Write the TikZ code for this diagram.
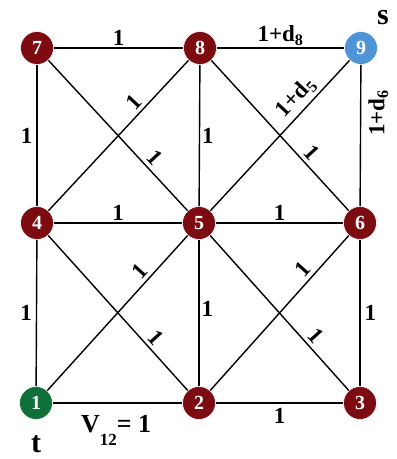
\documentclass[tikz,border=0pt]{standalone}
\usepackage{fontspec}
\setmainfont{Liberation Serif}
\definecolor{vred}{RGB}{125,12,18}
\definecolor{vgreen}{RGB}{16,112,58}
\definecolor{vblue}{RGB}{78,148,214}
\begin{document}
\begin{tikzpicture}[x=1pt,y=-1pt,line width=1.4pt,
  vert/.style={circle,fill=vred,draw=white,line width=0.6pt,minimum size=33pt,inner sep=0pt,text=white,font=\fontsize{20}{20}\selectfont\bfseries},
  lbl/.style={font=\fontsize{23}{23}\selectfont\bfseries,inner sep=2pt},
  dlbl/.style={lbl,sloped,above,inner sep=3.5pt},
  st/.style={font=\fontsize{30}{30}\selectfont\bfseries,inner sep=0pt}]
\useasboundingbox (0,0) rectangle (397,459);
\node[vert](N7) at (37,48){7};
\node[vert](N8) at (200,48){8};
\node[vert,fill=vblue](N9) at (361,48){9};
\node[vert](N4) at (37,223){4};
\node[vert](N5) at (199,223){5};
\node[vert](N6) at (360,223){6};
\node[vert,fill=vgreen](N1) at (36,403){1};
\node[vert](N2) at (199,403){2};
\node[vert](N3) at (360,403){3};

\node[st](S) at (383,18){s};
\node[st](T) at (36,444){t};

% grid
\draw(N7)--(N8) node[lbl,midway,above]{1};
\draw(N8)--(N9) node[lbl,midway,above]{1+d\textsubscript{8}};
\draw(N4)--(N5) node[lbl,midway,above]{1};
\draw(N5)--(N6) node[lbl,midway,above]{1};
\draw(N1)--(N2) node[lbl,pos=0.49,below,yshift=-10pt,font=\fontsize{26}{26}\selectfont\bfseries]{V\raisebox{-1.1ex}{\fontsize{17}{17}\selectfont 12}= 1};
\draw(N2)--(N3) node[lbl,midway,below,yshift=-3pt]{1};
\draw(N7)--(N4) node[lbl,midway,left,xshift=-2pt]{1};
\draw(N4)--(N1) node[lbl,midway,left,xshift=-2pt]{1};
\draw(N8)--(N5) node[lbl,midway,right]{1};
\draw(N5)--(N2) node[lbl,pos=0.47,right]{1};
\draw(N9)--(N6) node[lbl,pos=0.34,rotate=90,anchor=north,inner sep=7pt]{1+d\textsubscript{6}};
\draw(N6)--(N3) node[lbl,midway,right,xshift=2pt]{1};

% diagonals
\draw(N8)--(N4) node[dlbl,pos=0.33]{1};
\draw(N7)--(N5) node[dlbl,pos=0.7]{1};
\draw(N9)--(N5) node[dlbl,pos=0.31]{1+d\textsubscript{5}};
\draw(N8)--(N6) node[dlbl,pos=0.67]{1};
\draw(N5)--(N1) node[dlbl,pos=0.28]{1};
\draw(N6)--(N2) node[dlbl,pos=0.27]{1};
\draw(N4)--(N2) node[dlbl,pos=0.71]{1};
\draw(N5)--(N3) node[dlbl,pos=0.7]{1};
\end{tikzpicture}
\end{document}
